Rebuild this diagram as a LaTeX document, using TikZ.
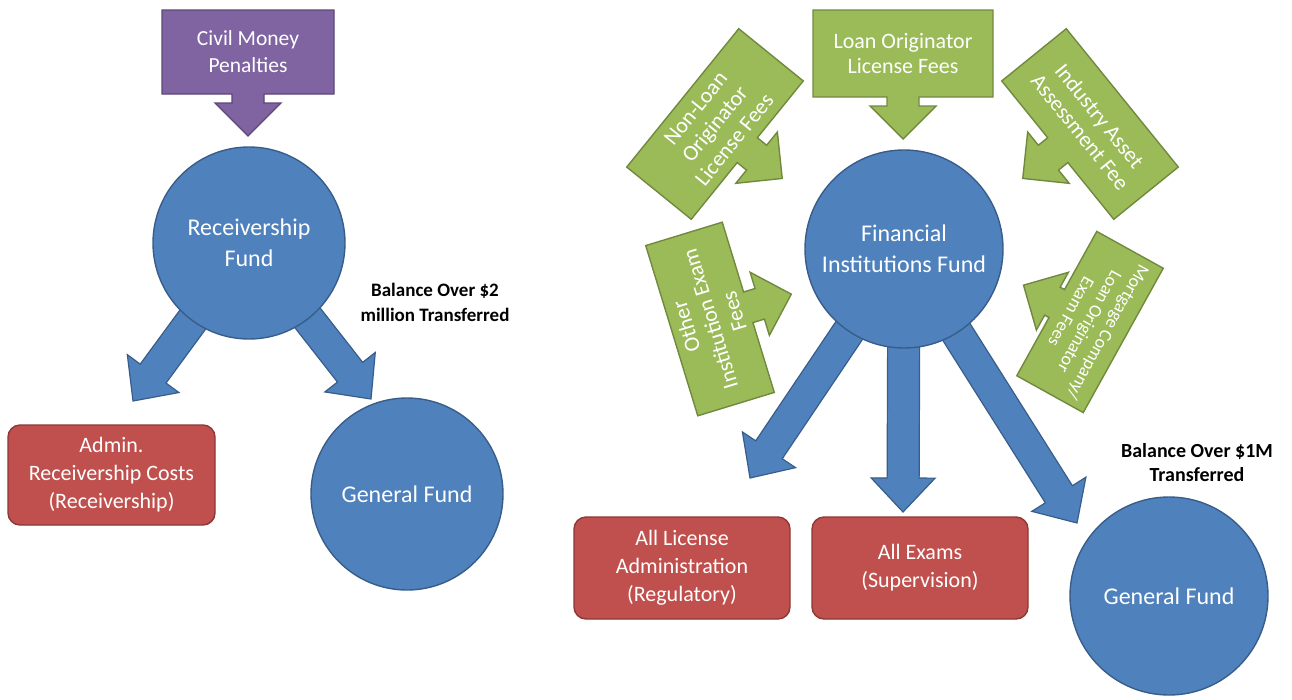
\documentclass[tikz,border=0pt]{standalone}
\usepackage{fontspec}
\setmainfont{Carlito}
\usetikzlibrary{calc,backgrounds}
\definecolor{oblue}{HTML}{4F81BD}
\definecolor{obluedark}{HTML}{385D8A}
\definecolor{ogreen}{HTML}{9BBB59}
\definecolor{ogreendark}{HTML}{71893F}
\definecolor{ored}{HTML}{C0504D}
\definecolor{oreddark}{HTML}{8C3836}
\definecolor{opurple}{HTML}{8064A2}
\definecolor{opurpledark}{HTML}{5C4776}
\tikzset{
  fund/.style={circle, fill=oblue, draw=obluedark, line width=1.4pt, text=white,
    align=center, inner sep=0pt, font=\fontsize{24}{31}\selectfont},
  redbox/.style={rectangle, rounded corners=12pt, fill=ored, draw=oreddark, line width=1.4pt,
    text=white, align=center, inner sep=0pt, font=\fontsize{22}{28}\selectfont},
  baltext/.style={align=center, text=black, inner sep=0pt, font=\bfseries\fontsize{19}{25}\selectfont},
  bluearrow/.style={fill=oblue, draw=obluedark, line width=1.2pt, line join=miter},
  greenshape/.style={fill=ogreen, draw=ogreendark, line width=1.4pt},
  greentext/.style={text=white, align=center, inner sep=0pt, font=\fontsize{22}{25}\selectfont},
  mortshape/.style={greenshape},
  morttext/.style={greentext, font=\fontsize{18}{21}\selectfont},
  purpshape/.style={fill=opurple, draw=opurpledark, line width=1.4pt},
  purptext/.style={text=white, align=center, inner sep=0pt, font=\fontsize{21.5}{27}\selectfont},
}
% #1 name, #2 cx, #3 cy (pixels, down), #4 rotation, #5 width, #6 height, #7 shaft length, #8 style prefix, #9 text
\newcommand{\callout}[9]{%
  \begin{scope}[shift={(#2,-#3)},rotate=#4]
    \filldraw[#8shape] (-#5/2,#6/2) -- (#5/2,#6/2) -- (#5/2,-#6/2) -- (16,-#6/2) -- (16,-#6/2-#7)
      -- (33,-#6/2-#7) -- (0,-#6/2-#7-33) -- (-33,-#6/2-#7) -- (-16,-#6/2-#7) -- (-16,-#6/2)
      -- (-#5/2,-#6/2) -- cycle;
    \node[transform shape, #8text] (#1) at (0,0) {#9};
  \end{scope}}
% block arrow from #1 to tip #2
\newcommand{\blockarrow}[2]{%
  \coordinate (bah) at ($(#2)!34pt!(#1)$);
  \filldraw[bluearrow] ($(#1)!16pt!90:(#2)$) -- ($(bah)!16pt!90:(#2)$) -- ($(bah)!32pt!90:(#2)$)
    -- (#2) -- ($(bah)!32pt!-90:(#2)$) -- ($(bah)!16pt!-90:(#2)$) -- ($(#1)!16pt!-90:(#2)$) -- cycle;}
\begin{document}
\begin{tikzpicture}[x=1pt,y=1pt]
\useasboundingbox (0,0) rectangle (1292,-699);

% ---- left diagram ----
\node[fund, minimum size=192pt] (rfund) at (249,-243) {Receivership\\Fund};
\node[fund, minimum size=192pt] (gf1) at (407,-494) {General Fund};
\node[redbox, minimum width=207pt, minimum height=100pt] (admin) at (111.5,-475)
  {Admin.\\Receivership Costs\\(Receivership)};
\node[baltext] (bal1) at (435,-302) {Balance Over \$2\\million Transferred};
\callout{civil}{248}{52}{0}{172}{84}{9}{purp}{Civil Money\\Penalties}

% ---- right diagram ----
\node[fund, minimum size=198pt] (fif) at (904,-249) {Financial\\Institutions Fund};
\node[fund, minimum size=198pt] (gf2) at (1169,-596) {General Fund};
\node[redbox, minimum width=216pt, minimum height=102pt] (lic) at (682,-568)
  {All License\\Administration\\(Regulatory)};
\node[redbox, minimum width=216pt, minimum height=102pt] (exams) at (920,-568)
  {All Exams\\(Supervision)};
\node[baltext, font=\bfseries\fontsize{20}{24}\selectfont] (bal2) at (1197,-463)
  {Balance Over \$1M\\Transferred};

\callout{loanorig}{903}{53.5}{0}{180}{87}{9}{green}{Loan Originator\\License Fees}
\callout{nonloan}{715}{124}{51}{178}{83}{12}{green}{Non-Loan\\Originator\\License Fees}
\callout{industry}{1090}{124}{-51}{178}{83}{12}{green}{Industry Asset\\Assessment Fee}
\callout{other}{710}{319}{107}{178}{80}{12}{green}{Other\\Institution Exam\\Fees}
\callout{mortgage}{1090}{322}{-119}{165}{76}{5}{mort}{Mortgage Company/\\Loan Originator\\Exam Fees}

% ---- blue flow arrows (behind the circles) ----
\begin{pgfonlayer}{background}
  \coordinate (tipadmin) at (133,-401);
  \coordinate (tipgf1) at (371,-399);
  \coordinate (tiplic) at (750,-478);
  \coordinate (tipexams) at (903,-512);
  \coordinate (tipgf2) at (1077,-523);
  \blockarrow{rfund.center}{tipadmin}
  \blockarrow{rfund.center}{tipgf1}
  \blockarrow{fif.center}{tiplic}
  \blockarrow{fif.center}{tipexams}
  \blockarrow{fif.center}{tipgf2}
\end{pgfonlayer}
\end{tikzpicture}
\end{document}
